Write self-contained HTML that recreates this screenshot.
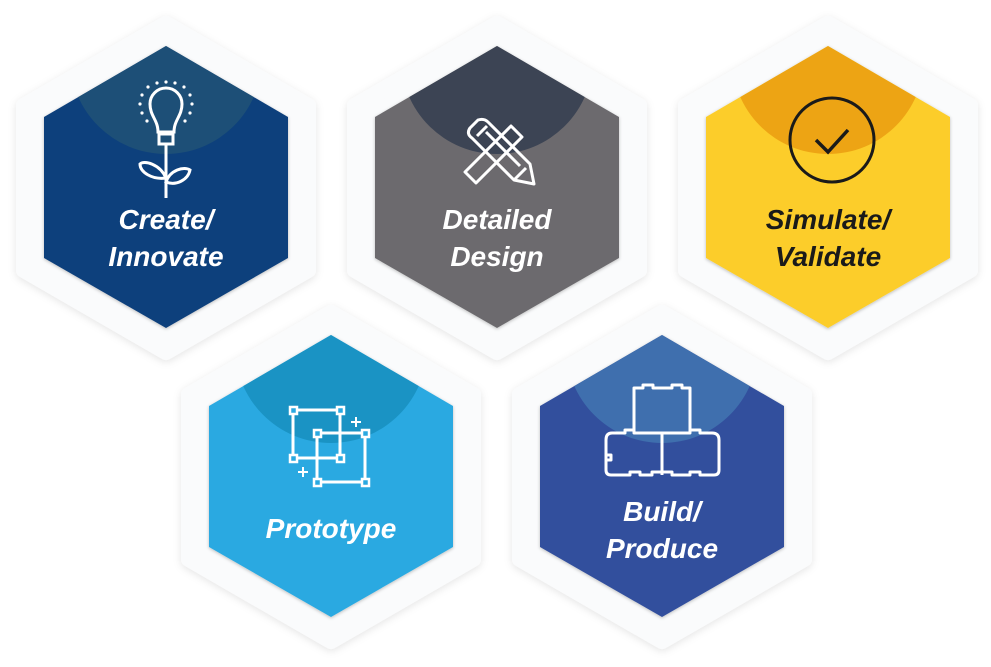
<!DOCTYPE html>
<html><head><meta charset="utf-8"><style>
html,body{margin:0;padding:0;background:#fff;}
svg{display:block}
text{font-family:"Liberation Sans",sans-serif;font-style:italic;font-weight:bold;font-size:28px;text-anchor:middle}
</style></head><body>
<svg width="991" height="667" viewBox="0 0 991 667" xmlns="http://www.w3.org/2000/svg">
<defs>
<filter id="sh" x="-20%" y="-20%" width="140%" height="140%"><feDropShadow dx="0" dy="2" stdDeviation="4" flood-color="#000" flood-opacity="0.10"/></filter>
<filter id="ish" x="-10%" y="-10%" width="120%" height="120%"><feDropShadow dx="0" dy="1" stdDeviation="1.5" flood-color="#000" flood-opacity="0.25"/></filter>
<clipPath id="c1"><polygon points="166,46 288,117 288,258 166,328 44,258 44,117"/></clipPath>
<clipPath id="c2"><polygon points="497,46 619,117 619,258 497,328 375,258 375,117"/></clipPath>
<clipPath id="c3"><polygon points="828,46 950,117 950,258 828,328 706,258 706,117"/></clipPath>
<clipPath id="c4"><polygon points="331,335 453,406 453,547 331,617 209,547 209,406"/></clipPath>
<clipPath id="c5"><polygon points="662,335 784,406 784,547 662,617 540,547 540,406"/></clipPath>
</defs>
<g fill="#fafbfc" stroke="#fafbfc" stroke-width="16" stroke-linejoin="round" filter="url(#sh)">
<polygon points="166,24 308,106 308,270 166,352 24,270 24,106"/>
<polygon points="497,24 639,106 639,270 497,352 355,270 355,106"/>
<polygon points="828,24 970,106 970,270 828,352 686,270 686,106"/>
<polygon points="331,313 473,395 473,559 331,641 189,559 189,395"/>
<polygon points="662,313 804,395 804,559 662,641 520,559 520,395"/>
</g>
<g filter="url(#ish)">
<polygon points="166,46 288,117 288,258 166,328 44,258 44,117" fill="#0f3f7b"/>
<polygon points="497,46 619,117 619,258 497,328 375,258 375,117" fill="#6c6b6e"/>
<polygon points="828,46 950,117 950,258 828,328 706,258 706,117" fill="#fccd2c"/>
<polygon points="331,335 453,406 453,547 331,617 209,547 209,406" fill="#2aa9e1"/>
<polygon points="662,335 784,406 784,547 662,617 540,547 540,406" fill="#33509d"/>
</g>
<circle cx="166" cy="58" r="96" fill="#1d4f77" clip-path="url(#c1)"/>
<circle cx="497" cy="58" r="96" fill="#3c4454" clip-path="url(#c2)"/>
<circle cx="828" cy="58" r="96" fill="#eda414" clip-path="url(#c3)"/>
<circle cx="331" cy="347" r="96" fill="#1a93c4" clip-path="url(#c4)"/>
<circle cx="662" cy="347" r="96" fill="#3f6fae" clip-path="url(#c5)"/>

<g fill="none" stroke="#fff" stroke-width="3">
<path d="M158,132 C158,120 150,116 150,104 A16,16 0 1 1 182,104 C182,116 174,120 174,132 Z"/>
<rect x="159" y="134" width="14" height="10"/>
<line x1="166" y1="144" x2="166" y2="198"/>
<path d="M166,178 C160,164 144,160 140,164 C140,172 152,180 166,178 Z"/>
<path d="M166,182 C170,170 184,166 190,170 C188,180 176,186 166,182 Z"/>
</g>
<g fill="#fff">
<circle cx="166" cy="82" r="1.6"/><circle cx="157" cy="83" r="1.6"/><circle cx="175" cy="83" r="1.6"/>
<circle cx="148" cy="87" r="1.6"/><circle cx="184" cy="87" r="1.6"/><circle cx="142" cy="95" r="1.6"/><circle cx="190" cy="95" r="1.6"/>
<circle cx="140" cy="104" r="1.6"/><circle cx="192" cy="104" r="1.6"/><circle cx="142" cy="113" r="1.6"/><circle cx="190" cy="113" r="1.6"/>
<circle cx="147" cy="121" r="1.6"/><circle cx="185" cy="121" r="1.6"/>
</g>
<g fill="none" stroke="#fff" stroke-width="3" stroke-linejoin="round">
<path d="M465,172 L511,126 L522,137 L476,183 Z"/>
<path d="M470,128 L478,120 Q484,118 488,122 L530,164 L534,184 L514,180 L472,138 Q466,134 470,128 Z"/>
<line x1="477" y1="136" x2="487" y2="126"/>
<line x1="486" y1="132" x2="520" y2="166"/>
<line x1="514" y1="180" x2="526" y2="168"/>
</g>
<g fill="none" stroke="#1a1a1a" stroke-width="3">
<circle cx="832" cy="140" r="42"/>
<path d="M816,140 L828,152 L848,130" stroke-width="3.5"/>
</g>
<g fill="none" stroke="#fff" stroke-width="3">
<rect x="293" y="410" width="47" height="48"/>
<rect x="317" y="433" width="48" height="49"/>
</g>
<g fill="#2aa9e1" stroke="#fff" stroke-width="2.5">
<rect x="290" y="407" width="7" height="7"/><rect x="337" y="407" width="7" height="7"/>
<rect x="290" y="455" width="7" height="7"/><rect x="337" y="455" width="7" height="7"/>
<rect x="314" y="430" width="7" height="7"/><rect x="362" y="430" width="7" height="7"/>
<rect x="314" y="479" width="7" height="7"/><rect x="362" y="479" width="7" height="7"/>
</g>
<g stroke="#fff" stroke-width="2"><path d="M356,417 v10 M351,422 h10 M303,467 v10 M298,472 h10"/></g>
<g fill="none" stroke="#fff" stroke-width="3" stroke-linejoin="round">
<path d="M634,433 L634,388 L643,388 L643,385 L653,385 L653,388 L672,388 L672,385 L682,385 L682,388 L690,388 L690,433"/>
<path d="M662,433 L662,475 M606,440 Q606,433 612,433 L625,433 L625,430 L634,430 L634,433 L690,433 L690,430 L700,430 L700,433 L712,433 Q719,433 719,440 L719,470 Q719,475 714,475 L700,475 L700,472 L690,472 L690,475 L672,475 L672,472 L662,472 L652,472 L652,475 L640,475 L640,472 L630,472 L630,475 L611,475 Q606,475 606,470 Z"/>
<path d="M606,455 L611,455 L611,460 L606,460"/>
</g>
<g fill="#fff">
<text x="166" y="229">Create/</text><text x="166" y="266">Innovate</text>
<text x="497" y="229">Detailed</text><text x="497" y="266">Design</text>
<text x="331" y="538">Prototype</text>
<text x="662" y="521">Build/</text><text x="662" y="558">Produce</text>
</g>
<g fill="#1a1a1a"><text x="828" y="229">Simulate/</text><text x="828" y="266">Validate</text></g>
</svg>
</body></html>
